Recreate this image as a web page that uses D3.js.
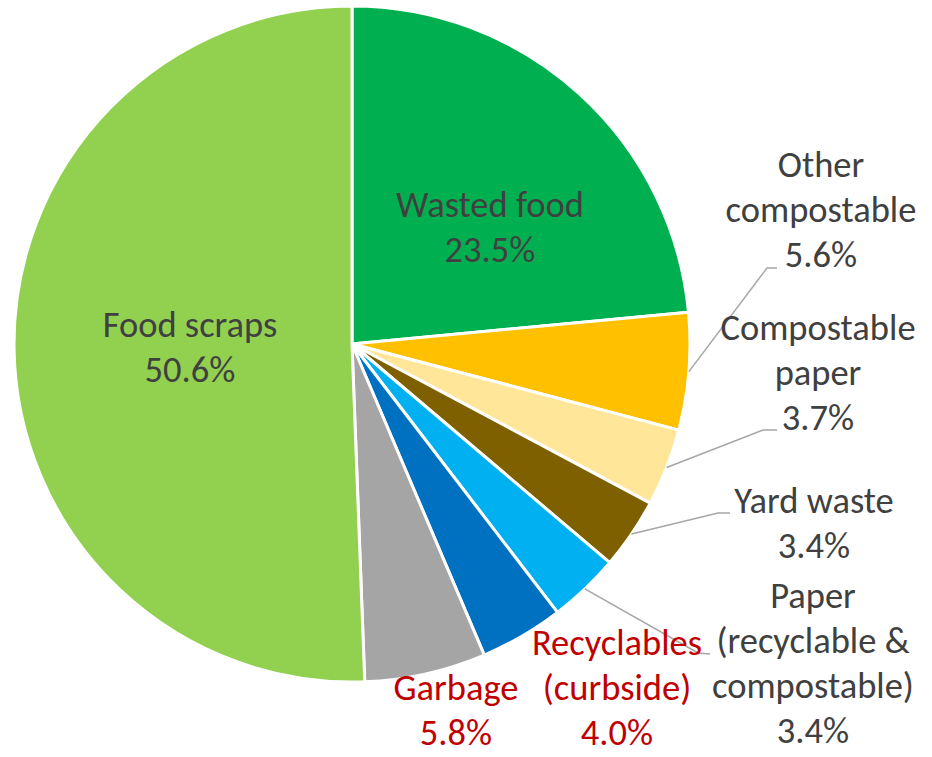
<!DOCTYPE html>
<html>
<head>
<meta charset="utf-8">
<script src="https://cdn.jsdelivr.net/npm/d3@7"></script>
<style>
  html, body { margin: 0; padding: 0; background: #fff; }
  svg { display: block; }
  text { font-family: Carlito, Lato, "Open Sans", sans-serif; }
</style>
</head>
<body>
<svg id="chart" width="932" height="757"></svg>
<script>
// ---- Data ----
const categories = ["Wasted food", "Other compostable", "Compostable paper", "Yard waste",
  "Paper (recyclable & compostable)", "Recyclables (curbside)", "Garbage", "Food scraps"];
const values = [23.5, 5.6, 3.7, 3.4, 3.4, 4.0, 5.8, 50.6];
const labelLines = [
  ["Wasted food"], ["Other", "compostable"], ["Compostable", "paper"], ["Yard waste"],
  ["Paper", "(recyclable &", "compostable)"], ["Recyclables", "(curbside)"], ["Garbage"], ["Food scraps"]
];
const colors = ["#00B050", "#FFC000", "#FFE699", "#7F6000", "#00B0F0", "#0070C0", "#A5A5A5", "#92D050"];
const labelColors = ["#404040", "#404040", "#404040", "#404040", "#404040", "#C00000", "#C00000", "#404040"];

// ---- Layout ----
const cx = 352, cy = 344, R = 338;
const lineH = 45, fontSize = 36.5;
// label anchor: center x, first baseline y; leader: elbow point, end point (or null)
const labelLayout = [
  { x: 490, y: 217, leader: null },
  { x: 821, y: 177, leader: [[767, 268], [777, 268]] },
  { x: 818, y: 340, leader: [[763, 430], [777, 430]] },
  { x: 814, y: 513, leader: [[718, 513], [730, 513]] },
  { x: 813, y: 608, leader: [[698, 653], [710, 654]] },
  { x: 617, y: 655, leader: null },
  { x: 456, y: 700, leader: null },
  { x: 190, y: 337, leader: null }
];

const svg = d3.select("#chart");
const g = svg.append("g").attr("transform", `translate(${cx},${cy})`);

const data = categories.map((c, i) => ({ name: c, value: values[i], i }));
const pie = d3.pie().sort(null).value(d => d.value);
const arcs = pie(data);
const arc = d3.arc().innerRadius(0).outerRadius(R);

g.selectAll("path.slice").data(arcs).join("path")
  .attr("class", "slice")
  .attr("d", arc)
  .attr("fill", d => colors[d.data.i])
  .attr("stroke", "#fff")
  .attr("stroke-width", 3)
  .attr("stroke-linejoin", "round");

// leader lines
arcs.forEach(a => {
  const L = labelLayout[a.data.i];
  if (!L.leader) return;
  const mid = (a.startAngle + a.endAngle) / 2;
  const p0 = [cx + R * Math.sin(mid), cy - R * Math.cos(mid)];
  svg.append("polyline")
    .attr("points", [p0, ...L.leader].map(p => p.join(",")).join(" "))
    .attr("fill", "none")
    .attr("stroke", "#A6A6A6")
    .attr("stroke-width", 1.5);
});

// labels
arcs.forEach(a => {
  const i = a.data.i;
  const L = labelLayout[i];
  const lines = labelLines[i].concat([d3.format(".1f")(values[i]) + "%"]);
  const t = svg.append("text")
    .attr("text-anchor", "middle")
    .attr("font-size", fontSize)
    .attr("fill", labelColors[i]);
  lines.forEach((ln, k) => {
    t.append("tspan").attr("x", L.x).attr("y", L.y + k * lineH).text(ln);
  });
});
</script>
</body>
</html>
